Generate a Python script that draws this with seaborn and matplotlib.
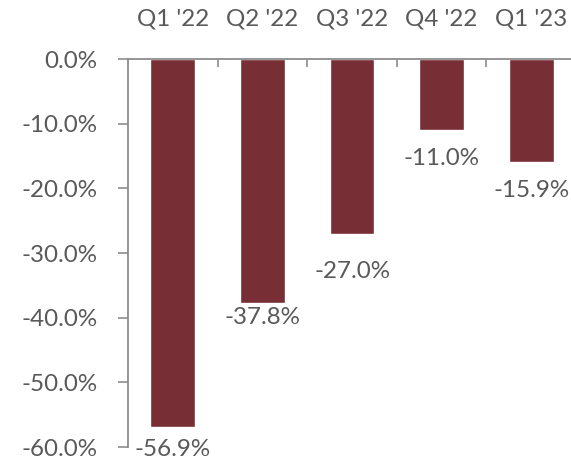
import pandas as pd
import seaborn as sns
import matplotlib.pyplot as plt
from matplotlib.ticker import FuncFormatter

quarters = ["Q1 '22", "Q2 '22", "Q3 '22", "Q4 '22", "Q1 '23"]
change = [-56.9, -37.8, -27.0, -11.0, -15.9]
y_ticks = [0, -10, -20, -30, -40, -50, -60]

# label placement below each bar (points), as in the source chart
label_offsets = [16.5, 10, 27, 20.5, 21]

BAR_COLOR = "#772E34"
TEXT_COLOR = "#595959"
AXIS_COLOR = "#8C8C8C"
FONT_SIZE = 17.4


def make_chart():
    df = pd.DataFrame({"quarter": quarters, "change": change})

    sns.set_style("white")
    plt.rcParams["font.family"] = ["Lato", "DejaVu Sans"]

    fig = plt.figure(figsize=(5.71, 4.59), dpi=100)
    ax = fig.add_axes([128 / 571, 1 - 447 / 459, 448 / 571, 388 / 459])

    sns.barplot(data=df, x="quarter", y="change", color=BAR_COLOR,
                width=0.5, saturation=1, ax=ax)

    ax.set_ylim(-60, 0)
    ax.set_xlim(-0.5, len(quarters) - 0.5)
    ax.set_yticks(y_ticks)
    ax.yaxis.set_major_formatter(FuncFormatter(lambda v, p: f"{v:.1f}%"))

    # categories on top, tick marks between categories
    ax.xaxis.tick_top()
    ax.set_xticks(range(len(quarters)))
    ax.set_xticklabels(quarters)
    ax.set_xticks([i + 0.5 for i in range(len(quarters) - 1)], minor=True)
    ax.tick_params(axis="x", which="major", length=0, pad=21,
                   labelsize=FONT_SIZE, labelcolor=TEXT_COLOR)
    ax.tick_params(axis="x", which="minor", direction="in", length=6,
                   width=1.2, color=AXIS_COLOR, top=True, bottom=False)
    ax.tick_params(axis="y", direction="out", length=7, width=1.2, left=True,
                   color=AXIS_COLOR, labelsize=FONT_SIZE, labelcolor=TEXT_COLOR, pad=15)

    ax.set_xlabel("")
    ax.set_ylabel("")

    for side in ["bottom", "right"]:
        ax.spines[side].set_visible(False)
    for side in ["top", "left"]:
        ax.spines[side].set_color(AXIS_COLOR)
        ax.spines[side].set_linewidth(1.3)

    for i, (v, off) in enumerate(zip(change, label_offsets)):
        ax.annotate(f"{v:.1f}%", xy=(i, v), xytext=(0, -off),
                    textcoords="offset points", ha="center", va="center",
                    fontsize=FONT_SIZE, color=TEXT_COLOR, annotation_clip=False)

    fig.savefig("out.png", dpi=100)


if __name__ == "__main__":
    make_chart()
